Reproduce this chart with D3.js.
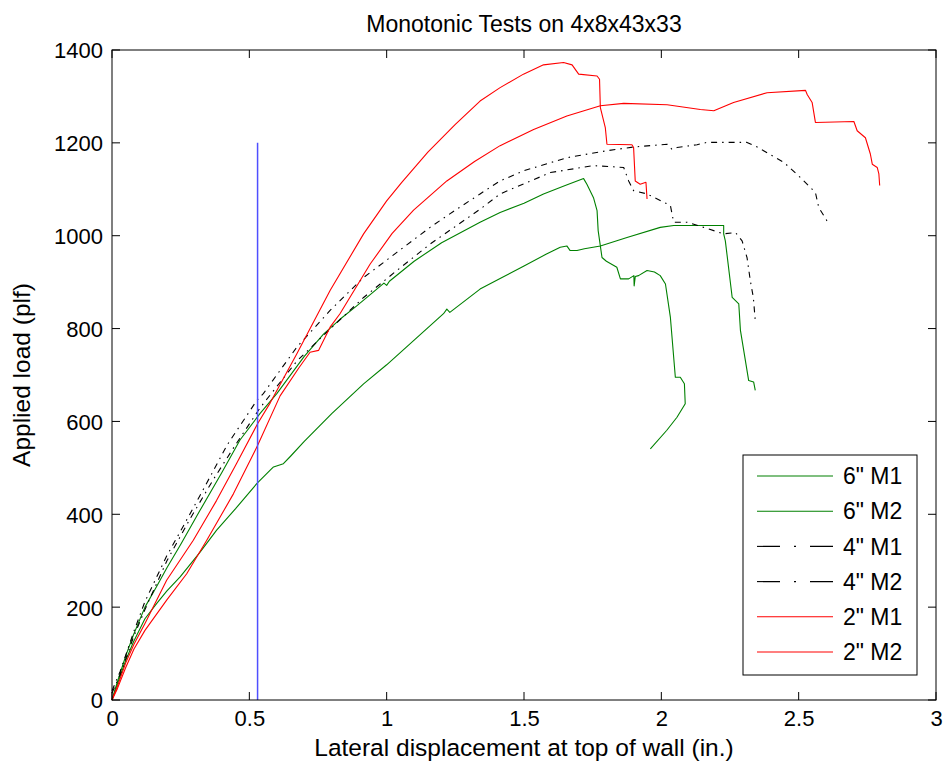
<!DOCTYPE html>
<html>
<head>
<meta charset="utf-8">
<script src="https://cdn.jsdelivr.net/npm/d3@7"></script>
<style>
  html, body { margin: 0; padding: 0; background: #fff; }
  svg { display: block; font-family: "Liberation Sans", Arial, Helvetica, sans-serif; }
</style>
</head>
<body>
<svg id="chart" width="946" height="768"></svg>
<script>
// ---------------- data ----------------
const title = "Monotonic Tests on 4x8x43x33";
const xLabel = "Lateral displacement at top of wall (in.)";
const yLabel = "Applied load (plf)";
const xTicks = [0, 0.5, 1, 1.5, 2, 2.5, 3];
const xTickLabels = ["0", "0.5", "1", "1.5", "2", "2.5", "3"];
const yTicks = [0, 200, 400, 600, 800, 1000, 1200, 1400];
const seriesNames = ["6\" M1", "6\" M2", "4\" M1", "4\" M2", "2\" M1", "2\" M2"];

// 6" M1 (green, peak ~1120)
const g1X = [0,0.02,0.05,0.078,0.12,0.163,0.2,0.25,0.32,0.4,0.466,0.54,0.6,0.7,0.77,0.83,0.891,0.95,0.99,1.0,1.01,1.1,1.2,1.34,1.413,1.5,1.571,1.65,1.717,1.729,1.753,1.766,1.77,1.784,1.8,1.838,1.851,1.881,1.9,1.901,1.905,1.917,1.948,1.975,1.996,2.015,2.033,2.051,2.069,2.084,2.087,2.057,2.02,1.96];
const g1Y = [0,40,95,140,200,245,285,335,408,490,560,618,660,740,788,820,849,878,898,893,902,945,985,1029,1050,1070,1090,1108,1123,1111,1082,1054,1011,953,945,932,907,907,914,892,912,914,925,922,914,896,824,695,695,681,638,609,581,541];

// 6" M2 (green, lower)
const g2X = [0,0.02,0.05,0.078,0.12,0.163,0.2,0.248,0.32,0.381,0.45,0.527,0.576,0.588,0.624,0.65,0.7,0.8,0.916,1.0,1.1,1.207,1.219,1.23,1.34,1.42,1.5,1.58,1.632,1.656,1.668,1.693,1.72,1.778,1.875,1.996,2.045,2.227,2.227,2.233,2.258,2.282,2.288,2.318,2.336,2.342];
const g2Y = [0,35,85,125,175,208,235,265,318,366,412,466,495,502,509,525,557,617,681,722,775,832,842,835,885,910,935,960,975,978,968,968,972,978,996,1018,1022,1022,1004,989,867,853,796,688,685,667];

// 4" M1 (black dash-dot, peak ~1200)
const k1X = [0,0.03,0.078,0.12,0.199,0.26,0.32,0.42,0.527,0.551,0.673,0.794,0.916,1.037,1.158,1.25,1.34,1.413,1.5,1.656,1.8,1.899,2.021,2.039,2.057,2.13,2.166,2.312,2.349,2.446,2.507,2.561,2.573,2.603,2.605];
const k1Y = [20,62,145,212,310,375,440,550,645,660,760,839,910,964,1018,1055,1090,1118,1140,1168,1183,1191,1197,1186,1190,1196,1201,1201,1191,1158,1125,1093,1061,1032,1025];

// 4" M2 (black dash-dot, peak ~1150)
const k2X = [0,0.03,0.078,0.12,0.2,0.284,0.369,0.45,0.54,0.673,0.794,0.916,1.037,1.158,1.34,1.413,1.5,1.596,1.753,1.863,1.881,1.899,1.948,2.033,2.045,2.093,2.154,2.227,2.27,2.294,2.312,2.324,2.335,2.342];
const k2Y = [15,55,135,195,300,390,475,550,630,730,799,867,925,982,1057,1090,1112,1136,1151,1147,1118,1097,1090,1065,1029,1029,1018,1004,1007,989,953,903,867,817];

// 2" M1 (red, peak ~1375)
const r1X = [0,0.02,0.05,0.08,0.12,0.199,0.296,0.381,0.454,0.53,0.576,0.673,0.794,0.916,1.0,1.055,1.15,1.25,1.34,1.413,1.498,1.571,1.644,1.675,1.699,1.766,1.775,1.778,1.796,1.802,1.893,1.899,1.905,1.923,1.944,1.948];
const r1Y = [0,30,80,120,165,258,344,430,510,595,640,746,882,1004,1075,1115,1180,1240,1290,1319,1348,1368,1373,1368,1348,1344,1337,1276,1233,1197,1196,1190,1118,1111,1115,1079];

// 2" M2 (red, plateau ~1280-1313)
const r2X = [0,0.02,0.05,0.08,0.12,0.199,0.272,0.345,0.442,0.53,0.612,0.68,0.721,0.752,0.794,0.83,0.94,1.02,1.098,1.219,1.32,1.413,1.535,1.656,1.778,1.863,2.021,2.142,2.191,2.263,2.385,2.525,2.531,2.549,2.561,2.701,2.713,2.743,2.761,2.768,2.786,2.792,2.795];
const r2Y = [0,25,70,110,150,215,272,344,444,548,655,715,749,753,803,832,939,1005,1055,1118,1160,1194,1229,1258,1280,1285,1282,1272,1269,1287,1308,1313,1304,1287,1244,1246,1226,1211,1176,1154,1147,1133,1108];

// vertical reference line
const refX = [0.53, 0.53];
const refY = [0, 1200];

// ---------------- layout ----------------
const W = 946, H = 768;
const margin = {left: 112, right: 10, top: 50, bottom: 68};
const svg = d3.select("#chart");
const x = d3.scaleLinear().domain([0, 3]).range([margin.left, W - margin.right]);
const y = d3.scaleLinear().domain([0, 1400]).range([H - margin.bottom, margin.top]);

const styles = [
  {color: "#008000", dash: null, legendDash: null},
  {color: "#008000", dash: null, legendDash: null},
  {color: "#000000", dash: "6,5,1.5,5", legendDash: "23,14,2,14"},
  {color: "#000000", dash: "6,5,1.5,5", legendDash: "23,14,2,14"},
  {color: "#ff0000", dash: null, legendDash: null},
  {color: "#ff0000", dash: null, legendDash: null}
];
const series = [
  d3.zip(g1X, g1Y), d3.zip(g2X, g2Y), d3.zip(k1X, k1Y),
  d3.zip(k2X, k2Y), d3.zip(r1X, r1Y), d3.zip(r2X, r2Y)
];

svg.append("rect").attr("x", 0).attr("y", 0).attr("width", W).attr("height", H).attr("fill", "#fff");

const line = d3.line().x(d => x(d[0])).y(d => y(d[1]));

const plot = svg.append("g");
series.forEach((s, i) => {
  plot.append("path")
    .datum(s)
    .attr("d", line)
    .attr("fill", "none")
    .attr("stroke", styles[i].color)
    .attr("stroke-width", 1.1)
    .attr("stroke-linejoin", "round")
    .attr("stroke-dasharray", styles[i].dash);
});
plot.append("path")
  .datum(d3.zip(refX, refY))
  .attr("d", line)
  .attr("fill", "none")
  .attr("stroke", "#4f4fff")
  .attr("stroke-width", 1.5);

// axes box
const axG = svg.append("g");
axG.append("rect")
  .attr("x", x(0)).attr("y", y(1400))
  .attr("width", x(3) - x(0)).attr("height", y(0) - y(1400))
  .attr("fill", "none").attr("stroke", "#000").attr("stroke-width", 1);

const tl = 8;
const xAxisB = d3.axisBottom(x).tickValues(xTicks).tickSize(0).tickFormat((d, i) => xTickLabels[i]);
const gxb = svg.append("g").attr("transform", `translate(0,${y(0)})`).call(xAxisB);
gxb.select(".domain").remove();
gxb.selectAll("text").attr("font-size", 22).attr("font-family", "Liberation Sans, Arial, sans-serif").attr("dy", "1.05em").attr("fill", "#000");

const yAxisL = d3.axisLeft(y).tickValues(yTicks).tickSize(0).tickFormat(d3.format("d"));
const gyl = svg.append("g").attr("transform", `translate(${x(0)},0)`).call(yAxisL);
gyl.select(".domain").remove();
gyl.selectAll("text").attr("font-size", 22).attr("font-family", "Liberation Sans, Arial, sans-serif").attr("x", -9).attr("dy", "0.36em").attr("fill", "#000");

// inward ticks on all sides
xTicks.forEach(v => {
  axG.append("line").attr("x1", x(v)).attr("x2", x(v)).attr("y1", y(0)).attr("y2", y(0) - tl).attr("stroke", "#000");
  axG.append("line").attr("x1", x(v)).attr("x2", x(v)).attr("y1", y(1400)).attr("y2", y(1400) + tl).attr("stroke", "#000");
});
yTicks.forEach(v => {
  axG.append("line").attr("x1", x(0)).attr("x2", x(0) + tl).attr("y1", y(v)).attr("y2", y(v)).attr("stroke", "#000");
  axG.append("line").attr("x1", x(3)).attr("x2", x(3) - tl).attr("y1", y(v)).attr("y2", y(v)).attr("stroke", "#000");
});

// title & labels
svg.append("text").attr("x", (x(0) + x(3)) / 2).attr("y", 32)
  .attr("text-anchor", "middle").attr("font-size", 23).text(title);
svg.append("text").attr("x", (x(0) + x(3)) / 2).attr("y", 756)
  .attr("text-anchor", "middle").attr("font-size", 24.5).text(xLabel);
svg.append("text").attr("transform", `translate(30,${(y(0) + y(1400)) / 2}) rotate(-90)`)
  .attr("text-anchor", "middle").attr("font-size", 24.5).text(yLabel);

// legend
const lg = svg.append("g");
const lx = 743, ly = 455, lw = 174, lh = 220;
lg.append("rect").attr("x", lx).attr("y", ly).attr("width", lw).attr("height", lh)
  .attr("fill", "#fff").attr("stroke", "#000").attr("stroke-width", 1);
seriesNames.forEach((name, i) => {
  const yy = ly + 21 + i * 35.2;
  lg.append("line").attr("x1", 757).attr("x2", 833).attr("y1", yy).attr("y2", yy)
    .attr("stroke", styles[i].color).attr("stroke-width", 1.1)
    .attr("stroke-dasharray", styles[i].legendDash);
  lg.append("text").attr("x", 843).attr("y", yy).attr("dy", "0.36em")
    .attr("font-size", 23).text(name);
});
</script>
</body>
</html>
